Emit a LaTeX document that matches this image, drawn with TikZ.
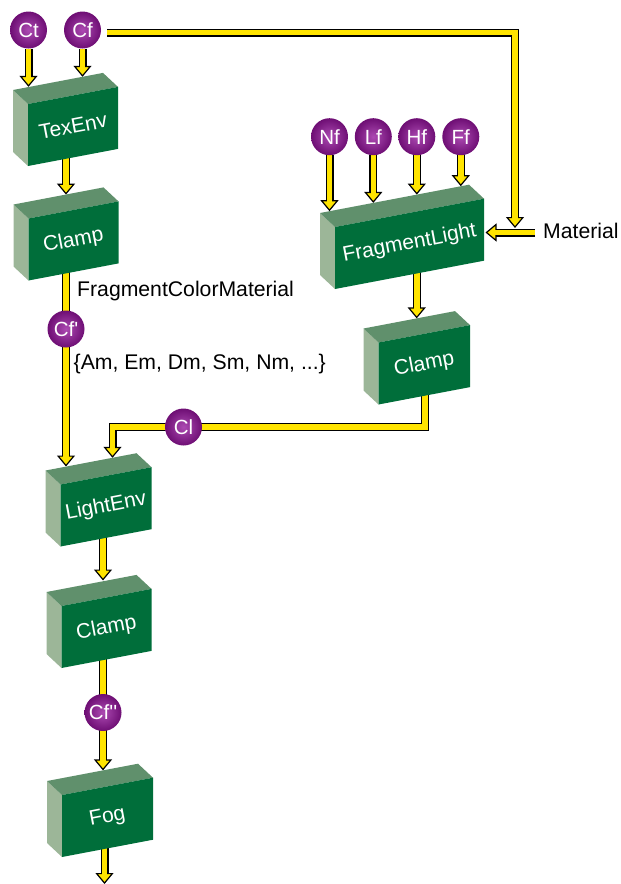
\documentclass[tikz,border=0pt]{standalone}
\usepackage{fontspec}
\setmainfont{Liberation Sans}
\usetikzlibrary{arrows.meta,backgrounds}
\definecolor{frontc}{RGB}{0,110,58}
\definecolor{topc}{RGB}{96,144,108}
\definecolor{sidec}{RGB}{156,182,152}
\definecolor{yel}{RGB}{255,228,0}
\definecolor{purin}{RGB}{172,74,178}
\definecolor{purout}{RGB}{110,14,116}
\tikzset{
  yarr/.style={draw=black, line width=8pt, line join=miter,
    -{Triangle[width=18pt,length=11pt,line width=1.2pt,fill=yel]},
    postaction={draw=yel, line width=5.6pt, -, shorten >=9pt}},
  ball/.style={circle, minimum size=37pt, inner sep=0pt, inner color=purin,
    outer color=purout, text=white, font=\fontsize{20.5}{21}\selectfont},
  boxlabel/.style={text=white, inner sep=0pt, font=\fontsize{21}{22}\selectfont},
  lbl/.style={text=black, inner sep=0pt, font=\fontsize{21.2}{22}\selectfont}
}
% name, x, y (front top-left), width, text
\newcommand{\gbox}[5]{%
  \pgfmathsetmacro{\gbr}{0.19*#4}%
  \fill[sidec] (#2,#3) -- ++(-15,-14) -- ++(0,62) -- (#2,{#3+62}) -- cycle;
  \fill[topc] (#2,#3) -- ++(-15,-14) -- ++(#4,-\gbr) -- ({#2+#4},{#3-\gbr}) -- cycle;
  \fill[frontc] (#2,#3) -- ({#2+#4},{#3-\gbr}) -- ++(0,62) -- (#2,{#3+62}) -- cycle;
  \node[boxlabel, rotate=10.8] (#1) at ({#2+#4/2},{#3-\gbr/2+31}) {#5};
}
\begin{document}
\begin{tikzpicture}[x=1pt,y=-1pt]
\useasboundingbox (0,0) rectangle (621,884);
% boxes
\gbox{TexEnv}{28}{104}{90}{TexEnv}
\gbox{Clamp1}{28.5}{218.5}{90}{Clamp}
\gbox{FragmentLight}{335}{227}{149}{FragmentLight}
\gbox{Clamp2}{378.5}{342.5}{91.5}{Clamp}
\gbox{LightEnv}{60.5}{484.5}{91}{LightEnv}
\gbox{Clamp3}{61.5}{606}{90}{Clamp}
\gbox{Fog}{62}{795}{91}{Fog}
% spheres
\node[ball] (Ct) at (28.5,30) {Ct};
\node[ball] (Cf) at (82.5,30) {Cf};
\node[ball] (Nf) at (329.5,136.7) {Nf};
\node[ball] (Lf) at (373.3,136.7) {Lf};
\node[ball] (Hf) at (416.8,136.7) {Hf};
\node[ball] (Ff) at (460.8,136.7) {Ff};
\node[ball] (Cfp) at (66,329) {Cf\textquotesingle};
\node[ball] (Cl) at (183.5,427) {Cl};
\node[ball] (Cfpp) at (103,712.5) {Cf\textquotesingle\textquotesingle};
% labels
\node[lbl, anchor=base west] (fcm) at (77,296.5) {FragmentColorMaterial};
\node[lbl, anchor=base west] (mset) at (73.5,369.5) {\{Am, Em, Dm, Sm, Nm, ...\}};
\node[lbl, anchor=base west] (mat) at (543,238.5) {Material};
% connector end points
\coordinate (texin1) at (28.5,86.8);
\coordinate (texin2) at (82.5,76.8);
\coordinate (cfcorner) at (515,32.5);
\coordinate (matjoin) at (515,228);
\coordinate (matstart) at (535,232.5);
\coordinate (flin) at (485.5,232.5);
\coordinate (fl1) at (329.5,211.2);
\coordinate (fl2) at (373.3,202.9);
\coordinate (fl3) at (416.8,194.6);
\coordinate (fl4) at (460.8,186.2);
\coordinate (c1in) at (66,194.6);
\coordinate (c2in) at (416.7,318.4);
\coordinate (lein1) at (66,466.5);
\coordinate (clcorner) at (425,427);
\coordinate (lein2) at (112.5,457.8);
\coordinate (c3in) at (103,580.5);
\coordinate (fogin) at (103,770.4);
\coordinate (fogout) at (104.5,884);
\begin{scope}[on background layer]
  \draw[yarr] (Ct) -- (texin1);
  \draw[yarr] (Cf) -- (texin2);
  \draw[yarr] ([xshift=6pt,yshift=-2.5pt]Cf.east) -- (cfcorner) -- (matjoin);
  \draw[yarr] (matstart) -- (flin);
  \draw[yarr] (Nf) -- (fl1);
  \draw[yarr] (Lf) -- (fl2);
  \draw[yarr] (Hf) -- (fl3);
  \draw[yarr] (Ff) -- (fl4);
  \draw[yarr] (TexEnv.center -| c1in) -- (c1in);
  \draw[yarr] (Clamp1.center -| lein1) -- (lein1);
  \draw[yarr] (FragmentLight.center -| c2in) -- (c2in);
  \draw[yarr] (Clamp2.center -| clcorner) -- (clcorner) -| (lein2);
  \draw[yarr] (LightEnv.center -| c3in) -- (c3in);
  \draw[yarr] (Clamp3.center -| fogin) -- (fogin);
  \draw[yarr] (Fog.center -| fogout) -- (fogout);
\end{scope}
\end{tikzpicture}
\end{document}
